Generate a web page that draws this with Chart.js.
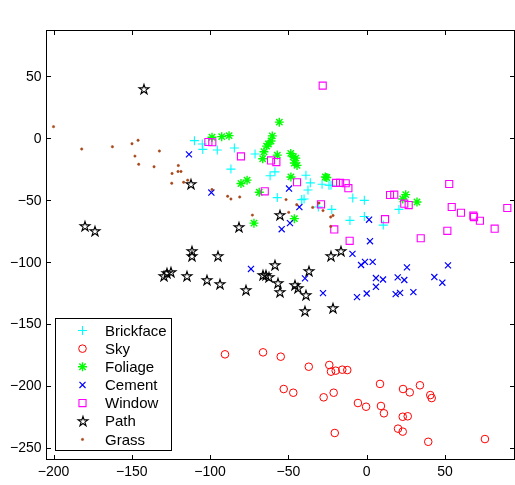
<!DOCTYPE html>
<html><head><meta charset="utf-8">
<script src="https://cdn.jsdelivr.net/npm/chart.js@4"></script>
<style>html,body{margin:0;padding:0;background:#fff;overflow:hidden}</style>
</head><body>
<canvas id="c" width="515" height="485" style="display:block;width:515px;height:485px"></canvas>
<script>
// ---- data ----
const classNames = ['Brickface','Sky','Foliage','Cement','Window','Path','Grass'];

const brickfaceX = [-110,-105,-104.7,-95.4,-84.5,-86.7,-71.3,-61.7,-58.6,-57.1,-38.8,-36,-37.5,-28.5,-24.1,-22.8,-41.5,-40,-30.9,-22.3,-8.9,-1.5,20.6,-1.5,-10.7,10.6];
const brickfaceY = [-1.9,-4.6,-9,-9.5,-7.9,-24.9,-12.7,-30.3,-27.1,-47.9,-29.8,-36,-41.7,-37.1,-37.9,-37.9,-49.5,-49,-55.5,-57.4,-48.2,-50.1,-57.4,-63.1,-66.3,-70.1];

const skyX = [-90.5,-66.2,-54.9,-37,-23.9,-22.8,-19.8,-15.6,-12.4,-53,-46.9,-27.5,-21.1,-20.4,-5.6,-0.4,8.5,9.1,11,23.2,27.5,34,40.6,41.5,23,26.2,20,23,39.3,75.5];
const skyY = [-174.4,-172.8,-176.3,-184.4,-183,-188.4,-187.6,-186.8,-187.1,-202.4,-205.4,-209.1,-205.4,-237.9,-213.7,-216.7,-198.3,-216.1,-222,-202.4,-205.1,-199.4,-207.3,-209.7,-224.8,-224.4,-234.4,-236.8,-245,-242.8];

const foliageX = [-98.8,-92.6,-87.9,-55.8,-60.3,-61.1,-62.8,-63.9,-65.6,-66.4,-57.1,-80.3,-76.4,-68.6,-48.5,-46.9,-45.3,-46.2,-44.5,-48.4,-26.4,-25.5,24.9,23,32.1,-72,-46.2];
const foliageY = [0.8,1.3,2.1,13,1.9,-2.2,-4.6,-6.3,-10.9,-16.5,-13.6,-36.5,-33.8,-43.6,-12.2,-14.9,-16,-20,-21.9,-31.2,-31.2,-31.7,-45.5,-49,-51.4,-68.5,-64.9];

const cementX = [-113.5,-99.2,-49.6,-43,1.5,-73.9,-54.3,-49,-39.4,-27.9,2.1,-9.1,-3.6,-1.1,3.8,25.7,51.9,-6.2,0,5.9,5.9,10.4,19.8,24,18.5,21.3,29.8,43.2,48.3];
const cementY = [-13,-43.8,-40.6,-55.5,-65.7,-105.5,-73.4,-68.5,-113.1,-125,-83.1,-93.3,-102.3,-99.8,-99.8,-104.2,-102.6,-128.2,-125.3,-119.9,-112.8,-114,-112.3,-114.4,-125.8,-124.8,-124.2,-112,-116.6];

const windowX = [-101.1,-98.6,-80.3,-61.1,-57.7,-65.1,-28.1,-44.5,-19.6,-17,-13.4,-11.7,-29.2,14.9,17.6,24,26.8,52.7,54.3,60.2,68.1,68.5,72.3,89.8,11.7,-20.7,-10.9,34.5,51.5,81.7];
const windowY = [-3,-3.2,-14.6,-17.9,-19.2,-42.8,42.5,-35.5,-36,-36,-36.3,-40.3,-53.3,-45.8,-45.5,-52.8,-53.9,-36.9,-55.5,-60.1,-62.5,-63.6,-66.6,-56.3,-65.3,-73.6,-82.8,-80.7,-74.7,-73];

const pathX = [-142.2,-112.2,-55.4,-179.9,-173.7,-111.7,-111.7,-94.8,-129.2,-127.3,-125,-114.6,-102.2,-93.9,-77.3,-81.5,-58.4,-66.4,-64.5,-62.2,-56.6,-55.4,-45.8,-44.1,-36.7,-38.6,-39.4,-23,-21.3,-16.6];
const pathY = [40,-37.1,-61.7,-71.2,-75,-90.7,-94.7,-95.3,-111,-108.8,-108.3,-111,-114.5,-117.5,-122.3,-71.8,-102.3,-110.4,-110.7,-112.3,-117.2,-123.7,-118.8,-120.9,-106.9,-126.9,-139.6,-94.7,-136.9,-91.2];

const grassX = [-200,-182,-162.4,-149.9,-146,-148,-145.6,-132.4,-135.8,-120.3,-120.5,-118.6,-124.3,-124.5,-116.9,-114.3,-98.8,-88.8,-86.7,-81.1,-51.5,-44.7,-34.5,-30.5,-27.9,-23,-21.5,-49.8,-73,-23];
const grassY = [9.4,-8.7,-6.8,-4.4,-1.6,-14.4,-21,-10.3,-23,-22,-26.8,-26.8,-28.4,-36.3,-35.5,-33.8,-41.4,-46.8,-49,-47.4,-49.5,-53.6,-55.8,-52.3,-58.4,-63.6,-62.3,-59.8,-62,-71.2];

const xTicks = [-200,-150,-100,-50,0,50];
const yTicks = [-250,-200,-150,-100,-50,0,50];
const xRange = [-204.8, 94.7];
const yRange = [-259.7, 87.4];

// ---- marker for Path (pentagram) ----
function makePentagram(R, color) {
  const s = 14;
  const c = document.createElement('canvas');
  c.width = s; c.height = s;
  const g = c.getContext('2d');
  const cx = s / 2, cy = s / 2 + 0.5, r = R * 0.382;
  g.beginPath();
  for (let i = 0; i < 10; i++) {
    const a = -Math.PI / 2 + i * Math.PI / 5;
    const rr = i % 2 === 0 ? R : r;
    const px = cx + rr * Math.cos(a), py = cy + rr * Math.sin(a);
    if (i === 0) g.moveTo(px, py); else g.lineTo(px, py);
  }
  g.closePath();
  g.strokeStyle = color; g.lineWidth = 1.1; g.stroke();
  return c;
}
const pentagram = makePentagram(5.2, '#000');

const zip = (xs, ys) => xs.map((x, i) => ({x: x, y: ys[i]}));
const styles = [
  {style:'cross', r:4.5, color:'#00ffff', fill:'rgba(0,0,0,0)', bw:1.1},
  {style:'circle', r:3.8, color:'#ff0000', fill:'rgba(0,0,0,0)', bw:1},
  {style:'star', r:4.5, color:'#00ff00', fill:'rgba(0,0,0,0)', bw:1.4},
  {style:'crossRot', r:4.3, color:'#0000ff', fill:'rgba(0,0,0,0)', bw:1.2},
  {style:'rect', r:5, color:'#ff00ff', fill:'rgba(0,0,0,0)', bw:1.1},
  {style:pentagram, r:5, color:'#000000', fill:'rgba(0,0,0,0)', bw:1},
  {style:'circle', r:1.2, color:'#a8481a', fill:'#a8481a', bw:0.5}
];
const seriesX = [brickfaceX, skyX, foliageX, cementX, windowX, pathX, grassX];
const seriesY = [brickfaceY, skyY, foliageY, cementY, windowY, pathY, grassY];

const datasets = classNames.map((name, i) => ({
  label: name,
  data: zip(seriesX[i], seriesY[i]),
  pointStyle: styles[i].style,
  pointRadius: styles[i].r,
  pointBorderColor: styles[i].color,
  pointBackgroundColor: styles[i].fill,
  pointBorderWidth: styles[i].bw,
  showLine: false,
  order: -i
}));

const FONT = "'Liberation Sans', Arial, Helvetica, sans-serif";
const fmt = v => (v < 0 ? '\u2212' + Math.abs(v) : String(v));

function drawLegendMarker(ctx, st, x, y) {
  ctx.save();
  ctx.strokeStyle = st.color; ctx.fillStyle = st.fill; ctx.lineWidth = st.bw;
  const r = st.r;
  if (st.style instanceof HTMLCanvasElement) {
    ctx.imageSmoothingEnabled = false;
    ctx.drawImage(st.style, Math.round(x - st.style.width / 2), Math.round(y - st.style.height / 2));
    ctx.restore(); return;
  }
  ctx.beginPath();
  const c45 = Math.SQRT1_2 * r;
  switch (st.style) {
    case 'cross': ctx.moveTo(x - r, y); ctx.lineTo(x + r, y); ctx.moveTo(x, y - r); ctx.lineTo(x, y + r); ctx.stroke(); break;
    case 'crossRot': ctx.moveTo(x - c45, y - c45); ctx.lineTo(x + c45, y + c45); ctx.moveTo(x + c45, y - c45); ctx.lineTo(x - c45, y + c45); ctx.stroke(); break;
    case 'star':
      ctx.moveTo(x - r, y); ctx.lineTo(x + r, y); ctx.moveTo(x, y - r); ctx.lineTo(x, y + r);
      ctx.moveTo(x - c45, y - c45); ctx.lineTo(x + c45, y + c45); ctx.moveTo(x + c45, y - c45); ctx.lineTo(x - c45, y + c45); ctx.stroke(); break;
    case 'rect': ctx.rect(x - c45, y - c45, 2 * c45, 2 * c45); ctx.fill(); ctx.stroke(); break;
    default: ctx.arc(x, y, r, 0, Math.PI * 2); ctx.fill(); ctx.stroke();
  }
  ctx.restore();
}

const framePlugin = {
  id: 'frame',
  beforeDatasetsDraw(chart) {
    const {ctx, chartArea: a, scales} = chart;
    ctx.save();
    ctx.strokeStyle = '#000'; ctx.lineWidth = 1;
    ctx.strokeRect(a.left + 0.5, a.top + 0.5, a.right - a.left - 1, a.bottom - a.top - 1);
    const tl = 5;
    ctx.beginPath();
    xTicks.forEach(v => {
      const px = Math.round(scales.x.getPixelForValue(v)) + 0.5;
      ctx.moveTo(px, a.bottom); ctx.lineTo(px, a.bottom - tl);
      ctx.moveTo(px, a.top); ctx.lineTo(px, a.top + tl);
    });
    yTicks.forEach(v => {
      const py = Math.round(scales.y.getPixelForValue(v)) + 0.5;
      ctx.moveTo(a.left, py); ctx.lineTo(a.left + tl, py);
      ctx.moveTo(a.right, py); ctx.lineTo(a.right - tl, py);
    });
    ctx.stroke();
    // tick labels
    ctx.fillStyle = '#000';
    ctx.font = '14px ' + FONT;
    ctx.textAlign = 'center'; ctx.textBaseline = 'top';
    xTicks.forEach(v => {
      ctx.fillText(fmt(v), scales.x.getPixelForValue(v), a.bottom + 5);
    });
    ctx.textAlign = 'right'; ctx.textBaseline = 'middle';
    yTicks.forEach(v => {
      ctx.fillText(fmt(v), a.left - 4.5, scales.y.getPixelForValue(v) + 0.5);
    });
    ctx.restore();
    ctx.imageSmoothingEnabled = false;
  },
  afterDatasetsDraw(chart) {
    chart.ctx.imageSmoothingEnabled = true;
  },
  afterDraw(chart) {
    const ctx = chart.ctx;
    ctx.save();
    const bx = 55.5, by = 318.5, bw = 116, bh = 132;
    ctx.fillStyle = '#fff';
    ctx.fillRect(bx, by, bw, bh);
    ctx.strokeStyle = '#000'; ctx.lineWidth = 1;
    ctx.strokeRect(bx, by, bw, bh);
    ctx.font = '15px ' + FONT;
    ctx.textBaseline = 'middle'; ctx.textAlign = 'left'; ctx.fillStyle = '#000';
    classNames.forEach((name, i) => {
      const y = 330.5 + i * 18.15;
      drawLegendMarker(ctx, styles[i], 82.5, y);
      ctx.fillText(name, 105, y + 1);
    });
    ctx.restore();
  }
};

new Chart(document.getElementById('c'), {
  type: 'scatter',
  data: {datasets},
  plugins: [framePlugin],
  options: {
    responsive: false,
    animation: false,
    devicePixelRatio: 1,
    events: [],
    layout: {autoPadding: false, padding: {top: 30, right: 0, left: 0, bottom: 0}},
    plugins: {legend: {display: false}, tooltip: {enabled: false}},
    scales: {
      x: {
        type: 'linear', min: xRange[0], max: xRange[1],
        grid: {display: false, drawTicks: false},
        border: {display: false},
        afterBuildTicks: s => { s.ticks = xTicks.map(v => ({value: v})); },
        afterFit: s => { s.height = 25; },
        ticks: {display: false}
      },
      y: {
        type: 'linear', min: yRange[0], max: yRange[1],
        grid: {display: false, drawTicks: false},
        border: {display: false},
        afterBuildTicks: s => { s.ticks = yTicks.map(v => ({value: v})); },
        afterFit: s => { s.width = 46; },
        ticks: {display: false}
      }
    }
  }
});
</script>
</body></html>
